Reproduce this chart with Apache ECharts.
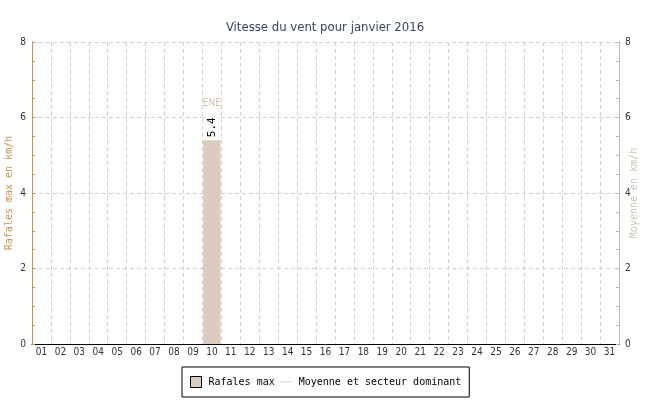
<!DOCTYPE html>
<html>
<head>
<meta charset="utf-8">
<script src="https://cdn.jsdelivr.net/npm/echarts@6/dist/echarts.min.js"></script>
<style>html,body{margin:0;padding:0;background:#fff}#c{width:650px;height:400px}</style>
</head>
<body>
<div id="c"></div>
<script>
const days = ['01','02','03','04','05','06','07','08','09','10','11','12','13','14','15','16','17','18','19','20','21','22','23','24','25','26','27','28','29','30','31'];
const rafales = [0,0,0,0,0,0,0,0,0,5.4,0,0,0,0,0,0,0,0,0,0,0,0,0,0,0,0,0,0,0,0,0];
const secteurs = ['','','','','','','','','','ENE','','','','','','','','','','','','','','','','','','','','',''];
const yTicks = [0,2,4,6,8];

const narrow = "'Liberation Sans Narrow','DejaVu Sans Condensed',sans-serif";
const mono = "'DejaVu Sans Mono',monospace";
const leftColor = '#c8924e';
const rightColor = '#c4b8a4';

const chart = echarts.init(document.getElementById('c'), null, {renderer:'canvas'});
chart.setOption({
  animation: false,
  backgroundColor: '#fff',
  title: {
    text: 'Vitesse du vent pour janvier 2016',
    left: 'center', top: 16,
    textStyle: {fontFamily: narrow, fontSize: 13, fontWeight: 'normal', color: '#3b4262'}
  },
  grid: {left: 32, right: 31, top: 42, bottom: 56, containLabel: false, outerBoundsMode: 'none'},
  legend: {
    left: 182, top: 367,
    padding: [9, 8, 9, 8],
    borderColor: '#000', borderWidth: 1,
    itemWidth: 11, itemHeight: 11, itemGap: 5,
    textStyle: {fontFamily: mono, fontSize: 10, color: '#000', padding: [0,0,0,2]},
    data: [
      {name: 'Rafales max', icon: 'rect', itemStyle: {borderColor: '#000', borderWidth: 1}},
      {name: 'Moyenne et secteur dominant', itemStyle: {opacity: 0}}
    ]
  },
  xAxis: {
    type: 'category', data: days, boundaryGap: true,
    axisLine: {lineStyle: {color: '#000'}},
    axisTick: {inside: true, length: 5, lineStyle: {color: '#000'}},
    axisLabel: {interval: 0, fontFamily: narrow, fontSize: 10, color: '#333', margin: 3},
    splitLine: {show: true, interval: 0, lineStyle: {color: '#cfcfcf', type: [4, 3]}}
  },
  yAxis: [
    {
      type: 'value', min: yTicks[0], max: yTicks[yTicks.length-1], interval: 2,
      name: 'Rafales max en km/h', nameLocation: 'middle', nameGap: 18, nameMoveOverlap: false,
      nameTextStyle: {fontFamily: mono, fontSize: 10, color: leftColor},
      axisLine: {show: true, lineStyle: {color: leftColor}},
      axisTick: {show: true, inside: true, length: 3, lineStyle: {color: leftColor}},
      minorTick: {show: true, splitNumber: 4, length: 3, lineStyle: {color: leftColor}},
      axisLabel: {fontFamily: narrow, fontSize: 10, color: '#333', margin: 6},
      splitLine: {show: true, lineStyle: {color: '#cfcfcf', type: [4, 3]}}
    },
    {
      type: 'value', min: yTicks[0], max: yTicks[yTicks.length-1], interval: 2,
      name: 'Moyenne en km/h', nameLocation: 'middle', nameGap: 10, nameMoveOverlap: false,
      nameTextStyle: {fontFamily: mono, fontSize: 10, color: '#cdc3b3'},
      axisLine: {show: true, lineStyle: {color: rightColor}},
      axisTick: {show: true, inside: true, length: 3, lineStyle: {color: rightColor}},
      minorTick: {show: true, splitNumber: 4, length: 3, lineStyle: {color: rightColor}},
      axisLabel: {fontFamily: narrow, fontSize: 10, color: '#333', margin: 6},
      splitLine: {show: false}
    }
  ],
  series: [
    {
      name: 'Rafales max', type: 'bar', data: rafales, barCategoryGap: '8%',
      itemStyle: {color: '#dacdbb'},
      label: {
        show: true, position: 'top', rotate: 90, align: 'left', verticalAlign: 'middle',
        distance: 2, fontFamily: mono, fontSize: 11, color: '#000',
        backgroundColor: '#fff', padding: [0, 1],
        formatter: p => p.value ? p.value.toFixed(1) : ''
      }
    },
    {
      name: 'Moyenne et secteur dominant', type: 'line',
      data: rafales.map((v, i) => secteurs[i] ? v : null),
      symbol: 'circle', symbolSize: 1, showSymbol: true,
      itemStyle: {color: 'rgba(0,0,0,0)', borderWidth: 0},
      lineStyle: {color: '#efe8dc', width: 1},
      label: {
        show: true, position: 'top', distance: 31,
        fontFamily: narrow, fontSize: 10, color: '#d6c4aa',
        formatter: p => secteurs[p.dataIndex]
      }
    }
  ]
});
</script>
</body>
</html>
